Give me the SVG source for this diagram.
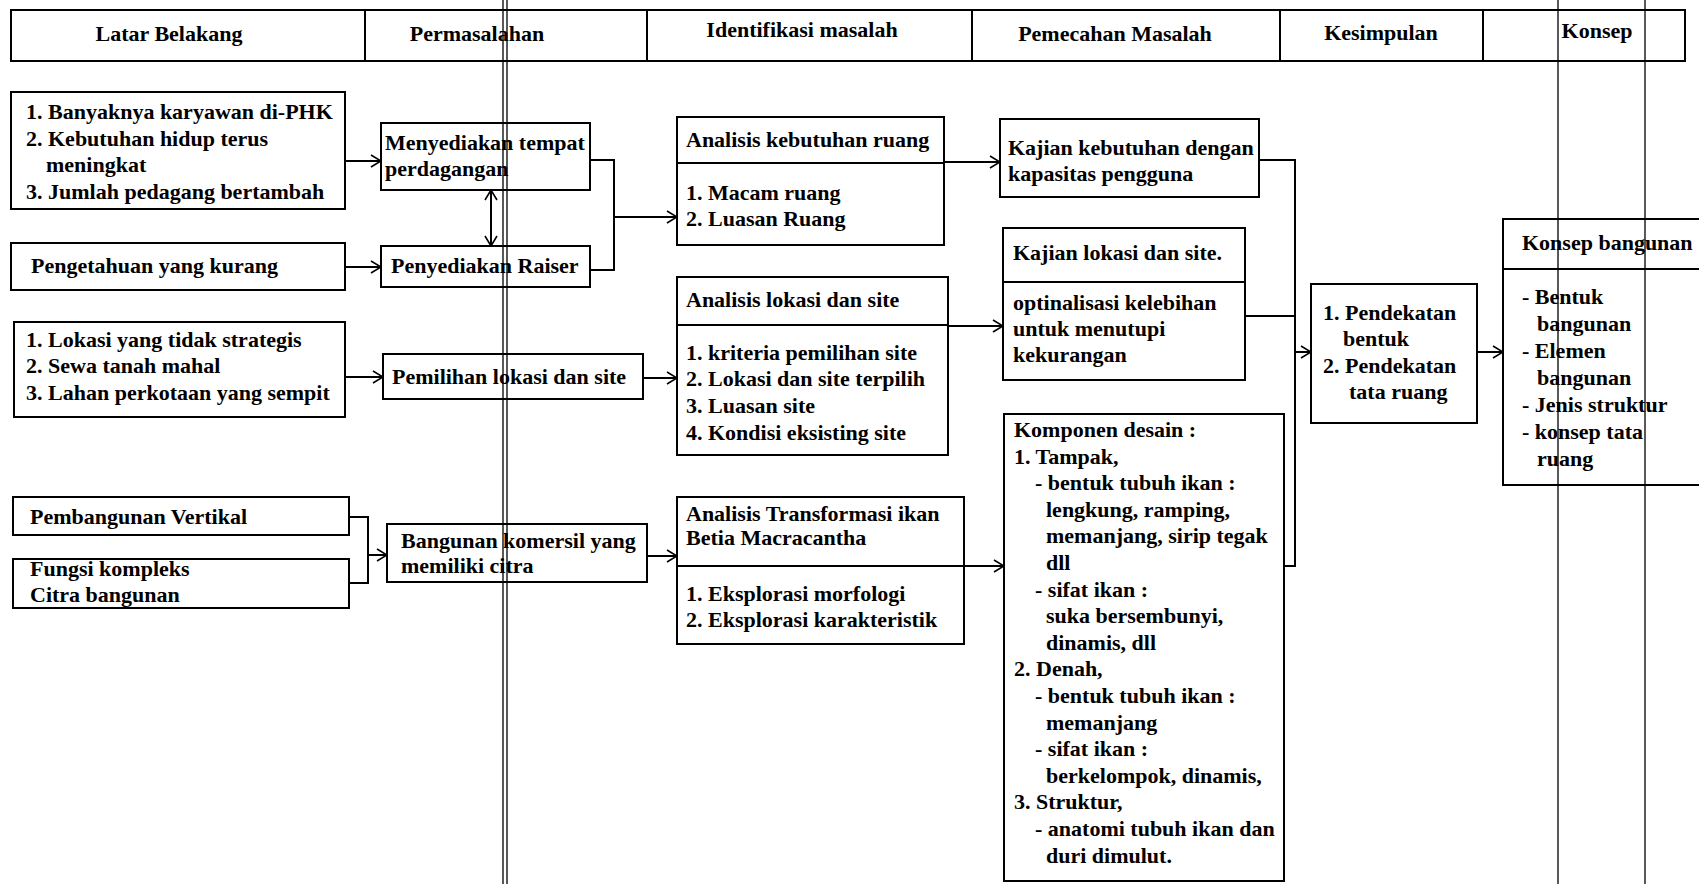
<svg xmlns="http://www.w3.org/2000/svg" width="1699" height="884" viewBox="0 0 1699 884">
<style>
rect{fill:#fff;stroke:#000;stroke-width:2}
.d{stroke:#000;stroke-width:2;fill:none}
.c{stroke:#000;stroke-width:2;fill:none}
.ar{marker-end:url(#arr)}
.s{stroke:#000;stroke-width:1.3}
text{font-family:"Liberation Serif","Times New Roman",serif;font-weight:bold;font-size:22px;fill:#000}
.m{text-anchor:middle}
</style>
<defs>
<marker id="arr" viewBox="0 0 12 14" refX="11" refY="7" markerWidth="12" markerHeight="14" markerUnits="userSpaceOnUse" orient="auto-start-reverse">
<path d="M1,1 L11,7 L1,13" fill="none" stroke="#000" stroke-width="1.6"/>
</marker>
</defs>
<rect width="1699" height="884" style="fill:#fff;stroke:none"/>

<g id="header">
<rect x="11" y="10" width="1674" height="51"/>
<path class="d" d="M365,10V61M647,10V61M972,10V61M1280,10V61M1483,10V61"/>
<text class="m" x="169" y="41">Latar Belakang</text>
<text class="m" x="477" y="41">Permasalahan</text>
<text class="m" x="802" y="37">Identifikasi masalah</text>
<text class="m" x="1115" y="41">Pemecahan Masalah</text>
<text class="m" x="1381" y="40">Kesimpulan</text>
<text class="m" x="1597" y="38">Konsep</text>
</g>

<g id="connectors">
<path class="c ar" d="M345,161H381"/>
<path class="c ar" d="M345,267H381"/>
<path class="c ar" d="M345,377H383"/>
<path class="c" d="M349,517H368V583H349"/>
<path class="c ar" d="M368,555H387"/>
<path class="c ar" d="M491,190V246" style="marker-start:url(#arr)"/>
<path class="c" d="M590,160H614V270H590"/>
<path class="c ar" d="M614,217H677"/>
<path class="c ar" d="M643,378H677"/>
<path class="c ar" d="M647,556H677"/>
<path class="c ar" d="M944,162H1000"/>
<path class="c ar" d="M948,326H1003"/>
<path class="c ar" d="M964,566H1004"/>
<path class="c" d="M1259,160H1295V566H1284M1245,316H1295"/>
<path class="c ar" d="M1295,352H1311"/>
<path class="c ar" d="M1477,352H1503"/>
</g>

<g id="lb1">
<rect x="11" y="92" width="334" height="117"/>
<text x="26" y="119">1. Banyaknya karyawan di-PHK</text>
<text x="26" y="146">2. Kebutuhan hidup terus</text>
<text x="46" y="172">meningkat</text>
<text x="26" y="199">3. Jumlah pedagang bertambah</text>
</g>
<g id="lb2">
<rect x="11" y="243" width="334" height="47"/>
<text x="31" y="273">Pengetahuan yang kurang</text>
</g>
<g id="lb3">
<rect x="14" y="322" width="331" height="95"/>
<text x="26" y="347">1. Lokasi yang tidak strategis</text>
<text x="26" y="373">2. Sewa tanah mahal</text>
<text x="26" y="400">3. Lahan perkotaan yang sempit</text>
</g>
<g id="lb4">
<rect x="13" y="497" width="336" height="38"/>
<text x="30" y="524">Pembangunan Vertikal</text>
</g>
<g id="lb5">
<rect x="13" y="559" width="336" height="49"/>
<text x="30" y="576">Fungsi kompleks</text>
<text x="30" y="602">Citra bangunan</text>
</g>

<g id="p1">
<rect x="381" y="123" width="209" height="67"/>
<text x="385" y="150">Menyediakan tempat</text>
<text x="385" y="176">perdagangan</text>
</g>
<g id="p2">
<rect x="381" y="246" width="209" height="41"/>
<text x="391" y="273">Penyediakan Raiser</text>
</g>
<g id="p3">
<rect x="383" y="354" width="260" height="45"/>
<text x="392" y="384">Pemilihan lokasi dan site</text>
</g>
<g id="p4">
<rect x="387" y="524" width="260" height="58"/>
<text x="401" y="548">Bangunan komersil yang</text>
<text x="401" y="573">memiliki citra</text>
</g>

<g id="i1">
<rect x="677" y="117" width="267" height="128"/>
<path class="d" d="M677,163H944"/>
<text x="686" y="147">Analisis kebutuhan ruang</text>
<text x="686" y="200">1. Macam ruang</text>
<text x="686" y="226">2. Luasan Ruang</text>
</g>
<g id="i2">
<rect x="677" y="277" width="271" height="178"/>
<path class="d" d="M677,325H948"/>
<text x="686" y="307">Analisis lokasi dan site</text>
<text x="686" y="360">1. kriteria pemilihan site</text>
<text x="686" y="386">2. Lokasi dan site terpilih</text>
<text x="686" y="413">3. Luasan site</text>
<text x="686" y="440">4. Kondisi eksisting site</text>
</g>
<g id="i3">
<rect x="677" y="497" width="287" height="147"/>
<path class="d" d="M677,566H964"/>
<text x="686" y="521">Analisis Transformasi ikan</text>
<text x="686" y="545">Betia Macracantha</text>
<text x="686" y="601">1. Eksplorasi morfologi</text>
<text x="686" y="627">2. Eksplorasi karakteristik</text>
</g>

<g id="m1">
<rect x="1000" y="119" width="259" height="78"/>
<text x="1008" y="155">Kajian kebutuhan dengan</text>
<text x="1008" y="181">kapasitas pengguna</text>
</g>
<g id="m2">
<rect x="1003" y="228" width="242" height="152"/>
<path class="d" d="M1003,282H1245"/>
<text x="1013" y="260">Kajian lokasi dan site.</text>
<text x="1013" y="310">optinalisasi kelebihan</text>
<text x="1013" y="336">untuk menutupi</text>
<text x="1013" y="362">kekurangan</text>
</g>
<g id="m3">
<rect x="1004" y="414" width="280" height="467"/>
<text x="1014" y="437">Komponen desain :</text>
<text x="1014" y="464">1. Tampak,</text>
<text x="1035" y="490">- bentuk tubuh ikan :</text>
<text x="1046" y="517">lengkung, ramping,</text>
<text x="1046" y="543">memanjang, sirip tegak</text>
<text x="1046" y="570">dll</text>
<text x="1035" y="597">- sifat ikan :</text>
<text x="1046" y="623">suka bersembunyi,</text>
<text x="1046" y="650">dinamis, dll</text>
<text x="1014" y="676">2. Denah,</text>
<text x="1035" y="703">- bentuk tubuh ikan :</text>
<text x="1046" y="730">memanjang</text>
<text x="1035" y="756">- sifat ikan :</text>
<text x="1046" y="783">berkelompok, dinamis,</text>
<text x="1014" y="809">3. Struktur,</text>
<text x="1035" y="836">- anatomi tubuh ikan dan</text>
<text x="1046" y="863">duri dimulut.</text>
</g>

<g id="k1">
<rect x="1311" y="284" width="166" height="139"/>
<text x="1323" y="320">1. Pendekatan</text>
<text x="1343" y="346">bentuk</text>
<text x="1323" y="373">2. Pendekatan</text>
<text x="1349" y="399">tata ruang</text>
</g>
<g id="k2">
<rect x="1503" y="219" width="210" height="266"/>
<path class="d" d="M1503,269H1713"/>
<text x="1522" y="250">Konsep bangunan</text>
<text x="1522" y="304">- Bentuk</text>
<text x="1537" y="331">bangunan</text>
<text x="1522" y="358">- Elemen</text>
<text x="1537" y="385">bangunan</text>
<text x="1522" y="412">- Jenis struktur</text>
<text x="1522" y="439">- konsep tata</text>
<text x="1537" y="466">ruang</text>
</g>

<g id="scan-lines">
<path class="s" d="M503,0V884M507,0V884M1558,0V884M1645,0V884"/>
</g>
</svg>
